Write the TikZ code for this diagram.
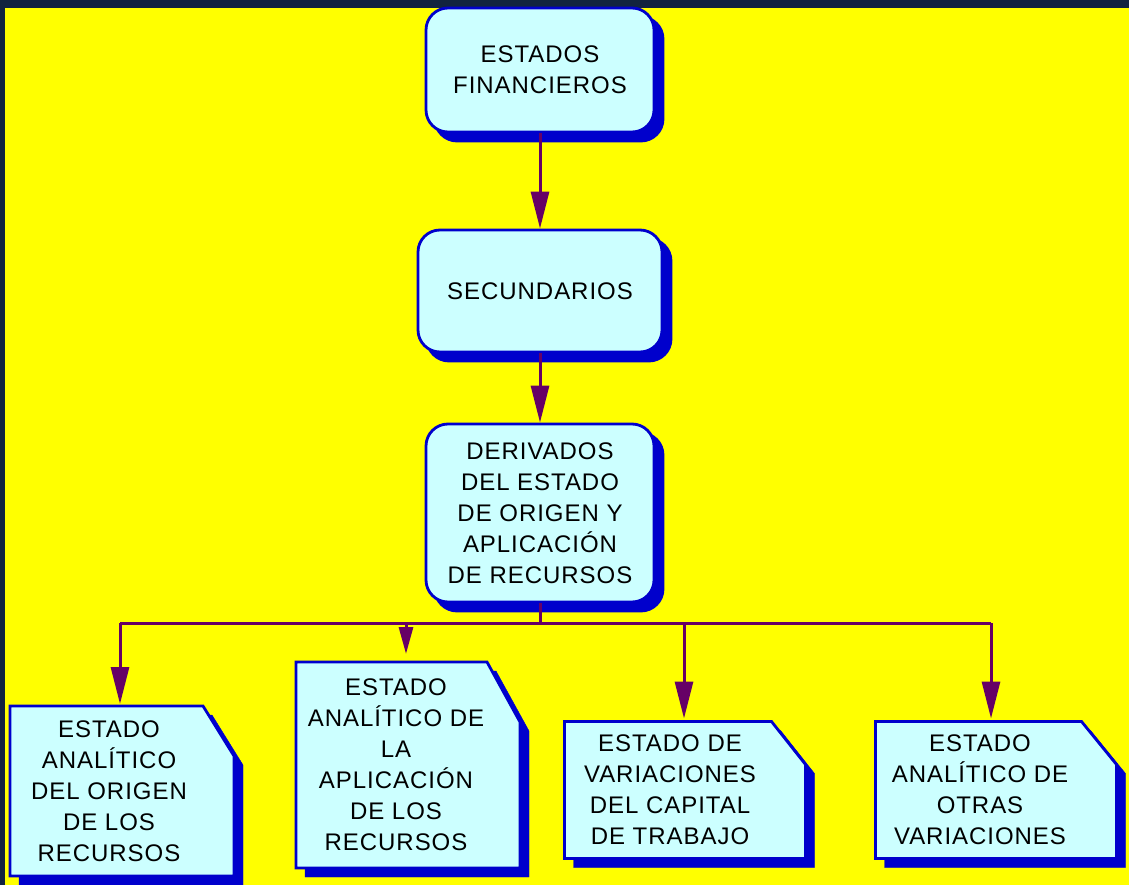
\documentclass[tikz,border=0pt]{standalone}
\usepackage{fontspec}
\setmainfont{Liberation Sans}[LetterSpace=4]
\usetikzlibrary{arrows.meta,shadows}
\definecolor{bgyellow}{RGB}{255,255,0}
\definecolor{framenavy}{RGB}{18,36,63}
\definecolor{boxfill}{RGB}{204,255,255}
\definecolor{boxline}{RGB}{0,0,204}
\definecolor{linkpurple}{RGB}{102,0,102}
\tikzset{
  roundbox/.style={draw=boxline, line width=2.8pt, fill=boxfill, rounded corners=22pt,
    inner sep=0pt, align=center, font=\fontsize{24}{31}\selectfont,
    copy shadow={shadow xshift=9pt, shadow yshift=-9pt, fill=boxline, draw=boxline}},
  docframe/.style={rectangle, inner sep=0pt, outer sep=0pt},
  docshape/.style={draw=boxline, line width=2.8pt, fill=boxfill,
    copy shadow={shadow xshift=9pt, shadow yshift=-9pt, fill=boxline, draw=boxline}},
  doctext/.style={align=center, font=\fontsize{24}{31}\selectfont},
  arrowline/.style={draw=linkpurple, line width=3pt},
  bigtip/.style={-{Triangle[length=37pt,width=18pt]}},
  smalltip/.style={-{Triangle[length=27pt,width=14pt]}}
}
\begin{document}
\begin{tikzpicture}[x=1pt,y=-1pt]
\useasboundingbox (0,0) rectangle (1129,885);
\fill[framenavy] (0,0) rectangle (1129,885);
\fill[bgyellow] (5,8) rectangle (1129,885);
% upper chain
\node[roundbox, minimum width=228pt, minimum height=124pt] (fin) at (540,70) {ESTADOS\\FINANCIEROS};
\node[roundbox, minimum width=244pt, minimum height=122pt] (sec) at (540,291) {SECUNDARIOS};
\node[roundbox, minimum width=228pt, minimum height=178pt] (der) at (540,513) {DERIVADOS\\DEL ESTADO\\DE ORIGEN Y\\APLICACIÓN\\DE RECURSOS};
\draw[arrowline, bigtip] (fin) -- (sec);
\draw[arrowline, bigtip] (sec) -- (der);
% lower row
\node[docframe, minimum width=224pt, minimum height=170pt] (ori) at (122,791) {};
\path[docshape] (ori.north west) -- ([xshift=-31pt]ori.north east) -- ([yshift=-50pt]ori.north east) -- (ori.south east) -- (ori.south west) -- cycle;
\node[doctext] (tori) at (109,791) {ESTADO\\ANALÍTICO\\DEL ORIGEN\\DE LOS\\RECURSOS};
\node[docframe, minimum width=224pt, minimum height=206pt] (apl) at (408,765) {};
\path[docshape] (apl.north west) -- ([xshift=-33pt]apl.north east) -- ([yshift=-60pt]apl.north east) -- (apl.south east) -- (apl.south west) -- cycle;
\node[doctext] (tapl) at (396,765) {ESTADO\\ANALÍTICO DE\\LA\\APLICACIÓN\\DE LOS\\RECURSOS};
\node[docframe, minimum width=241pt, minimum height=137pt] (cap) at (685,790) {};
\path[docshape] (cap.north west) -- ([xshift=-34pt]cap.north east) -- ([yshift=-43pt]cap.north east) -- (cap.south east) -- (cap.south west) -- cycle;
\node[doctext] (tcap) at (670,790) {ESTADO DE\\VARIACIONES\\DEL CAPITAL\\DE TRABAJO};
\node[docframe, minimum width=241pt, minimum height=137pt] (otr) at (996,790) {};
\path[docshape] (otr.north west) -- ([xshift=-35pt]otr.north east) -- ([yshift=-43pt]otr.north east) -- (otr.south east) -- (otr.south west) -- cycle;
\node[doctext] (totr) at (980,790) {ESTADO\\ANALÍTICO DE\\OTRAS\\VARIACIONES};
% bus
\coordinate (busm) at (540,623);
\coordinate (busl) at (120,623);
\coordinate (busa) at (406,623);
\coordinate (busc) at (684,623);
\coordinate (busr) at (991,623);
\draw[arrowline] (der) -- (busm);
\draw[arrowline] (busl) -- (busr);
\draw[arrowline, bigtip] (busl) -- ([yshift=2pt]busl |- ori.north);
\draw[arrowline, smalltip] (busa) -- ([yshift=8pt]busa |- apl.north);
\draw[arrowline, bigtip] (busc) -- ([yshift=3pt]busc |- cap.north);
\draw[arrowline, bigtip] (busr) -- ([yshift=3pt]busr |- otr.north);

\end{tikzpicture}
\end{document}
